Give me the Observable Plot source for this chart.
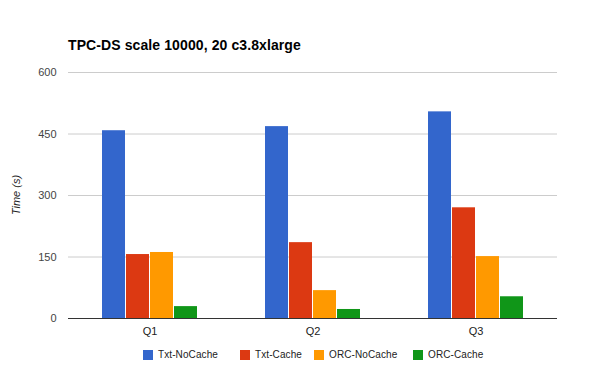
<!DOCTYPE html>
<html>
<head>
<meta charset="utf-8">
<script src="https://cdn.jsdelivr.net/npm/d3@7"></script>
<script src="https://cdn.jsdelivr.net/npm/@observablehq/plot@0.6"></script>
<style>
  html, body { margin: 0; padding: 0; background: #fff; }
  #wrap { position: relative; width: 600px; height: 371px; font-family: "Liberation Sans", Arial, sans-serif; }
  #title { position: absolute; left: 68px; top: 37px; font-size: 14px; font-weight: bold; color: #000; white-space: nowrap; letter-spacing: 0.1px; }
  #legend { position: absolute; left: 0; top: 349px; width: 600px; height: 14px; }
  .item { position: absolute; top: 0; display: flex; align-items: center; font-size: 10px; color: #222; white-space: nowrap; letter-spacing: 0.1px; }
  .sw { width: 10px; height: 10px; margin-right: 5px; }
  #chart { position: absolute; left: 0; top: 0; }
</style>
</head>
<body>
<div id="wrap">
  <div id="chart"></div>
  <div id="title"></div>
  <div id="legend"></div>
</div>
<script>
const title = "TPC-DS scale 10000, 20 c3.8xlarge";
const yLabel = "Time (s)";
const queries = ["Q1", "Q2", "Q3"];
const series = ["Txt-NoCache", "Txt-Cache", "ORC-NoCache", "ORC-Cache"];
const txtNoCache = [458, 468, 504];
const txtCache = [156, 185, 270];
const orcNoCache = [161, 68, 151];
const orcCache = [29, 22, 53];
const yTicks = [0, 150, 300, 450, 600];
const colors = ["#3366cc", "#dc3912", "#ff9900", "#109618"];
const legendX = [143, 240, 314, 413];

const valuesBySeries = [txtNoCache, txtCache, orcNoCache, orcCache];
const data = [];
queries.forEach((q, i) => {
  series.forEach((s, j) => {
    data.push({query: q, series: s, value: valuesBySeries[j][i]});
  });
});

const chart = Plot.plot({
  width: 600,
  height: 371,
  marginLeft: 67,
  marginRight: 43,
  marginTop: 72,
  marginBottom: 53,
  style: {fontFamily: "'Liberation Sans', Arial, sans-serif", fontSize: "11px", background: "transparent"},
  fx: {domain: queries, paddingInner: 0, paddingOuter: 0, label: null, axis: null},
  x: {domain: series, paddingInner: 0.04, paddingOuter: 1.287, axis: null},
  y: {domain: [0, 600], label: null},
  color: {domain: series, range: colors},
  marks: [
    Plot.ruleY(yTicks.filter(d => d > 0), {stroke: "#cccccc", strokeWidth: 1}),
    Plot.barY(data, {fx: "query", x: "series", y: "value", fill: "series"}),
    Plot.ruleY([0], {stroke: "#333333", strokeWidth: 1}),
    Plot.axisFx({anchor: "bottom", tickSize: 0, tickPadding: 9, fontSize: 11, fill: "#222", label: null}),
    Plot.axisY({ticks: yTicks, tickSize: 0, tickPadding: 12, fontSize: 11, fill: "#444", label: null})
  ]
});
document.getElementById("chart").appendChild(chart);

// Y axis title
const svg = d3.select(chart);
svg.append("text")
  .attr("transform", `translate(20,${(72 + 318) / 2}) rotate(-90)`)
  .attr("text-anchor", "middle")
  .attr("font-style", "italic")
  .attr("font-size", 11)
  .attr("fill", "#222")
  .attr("font-family", "'Liberation Sans', Arial, sans-serif")
  .text(yLabel);

document.getElementById("title").textContent = title;

const legend = document.getElementById("legend");
series.forEach((s, i) => {
  const item = document.createElement("div");
  item.className = "item";
  item.style.left = legendX[i] + "px";
  const sw = document.createElement("div");
  sw.className = "sw";
  sw.style.background = colors[i];
  const t = document.createElement("span");
  t.textContent = s;
  item.appendChild(sw);
  item.appendChild(t);
  legend.appendChild(item);
});
</script>
</body>
</html>
